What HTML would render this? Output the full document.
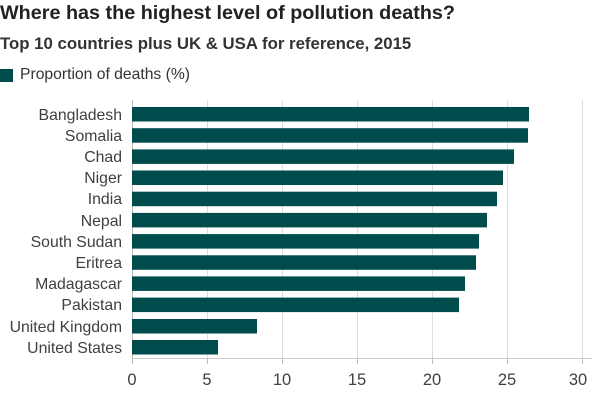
<!DOCTYPE html><html><head><style>
body{margin:0;width:603px;height:401px;background:#fff;font-family:"Liberation Sans",sans-serif;position:relative;overflow:hidden;color:#222}
.t{position:absolute;left:0;white-space:nowrap}
</style></head><body>
<div class="t" style="top:2px;font-size:19.8px;font-weight:bold;color:#222">Where has the highest level of pollution deaths?</div>
<div class="t" style="top:34px;font-size:16.8px;font-weight:bold;color:#333">Top 10 countries plus UK &amp; USA for reference, 2015</div>
<div style="position:absolute;left:0;top:69px;width:13px;height:13px;background:#004c4c"></div>
<div class="t" style="left:20px;top:66px;font-size:15.7px;color:#333">Proportion of deaths (%)</div>
<svg width="603" height="401" style="position:absolute;left:0;top:0" font-family="Liberation Sans, sans-serif">
<g stroke="#ddd" stroke-width="1">
<line x1="207.5" y1="100" x2="207.5" y2="358"/><line x1="282.5" y1="100" x2="282.5" y2="358"/><line x1="357.5" y1="100" x2="357.5" y2="358"/><line x1="432.5" y1="100" x2="432.5" y2="358"/><line x1="507.5" y1="100" x2="507.5" y2="358"/><line x1="582.5" y1="100" x2="582.5" y2="358"/>
<line x1="132" y1="358.5" x2="592" y2="358.5" stroke="#ccc"/>
</g>
<g stroke="#bbb"><line x1="132.5" y1="100" x2="132.5" y2="364"/><line x1="207.5" y1="358" x2="207.5" y2="364"/><line x1="282.5" y1="358" x2="282.5" y2="364"/><line x1="357.5" y1="358" x2="357.5" y2="364"/><line x1="432.5" y1="358" x2="432.5" y2="364"/><line x1="507.5" y1="358" x2="507.5" y2="364"/><line x1="582.5" y1="358" x2="582.5" y2="364"/></g>
<g fill="#004c4c">
<rect x="132" y="107" width="397" height="14.5"/>
<rect x="132" y="128.2" width="396" height="14.5"/>
<rect x="132" y="149.4" width="382" height="14.5"/>
<rect x="132" y="170.5" width="371" height="14.5"/>
<rect x="132" y="191.7" width="365" height="14.5"/>
<rect x="132" y="212.9" width="355" height="14.5"/>
<rect x="132" y="234.1" width="347" height="14.5"/>
<rect x="132" y="255.3" width="344" height="14.5"/>
<rect x="132" y="276.4" width="333" height="14.5"/>
<rect x="132" y="297.6" width="327" height="14.5"/>
<rect x="132" y="319" width="125" height="14.5"/>
<rect x="132" y="340" width="86" height="14.5"/>
</g>
<g font-size="15.8" fill="#404040" text-anchor="end">
<text x="122" y="120">Bangladesh</text><text x="122" y="141">Somalia</text><text x="122" y="162">Chad</text><text x="122" y="183">Niger</text><text x="122" y="204">India</text><text x="122" y="226">Nepal</text><text x="122" y="247">South Sudan</text><text x="122" y="268">Eritrea</text><text x="122" y="289">Madagascar</text><text x="122" y="310">Pakistan</text><text x="122" y="332">United Kingdom</text><text x="122" y="353">United States</text>
</g>
<g font-size="16.5" fill="#404040" text-anchor="middle">
<text x="132" y="385">0</text><text x="207" y="385">5</text><text x="282" y="385">10</text><text x="357" y="385">15</text><text x="432" y="385">20</text><text x="507" y="385">25</text><text x="578" y="385">30</text>
</g>
</svg>
</body></html>
